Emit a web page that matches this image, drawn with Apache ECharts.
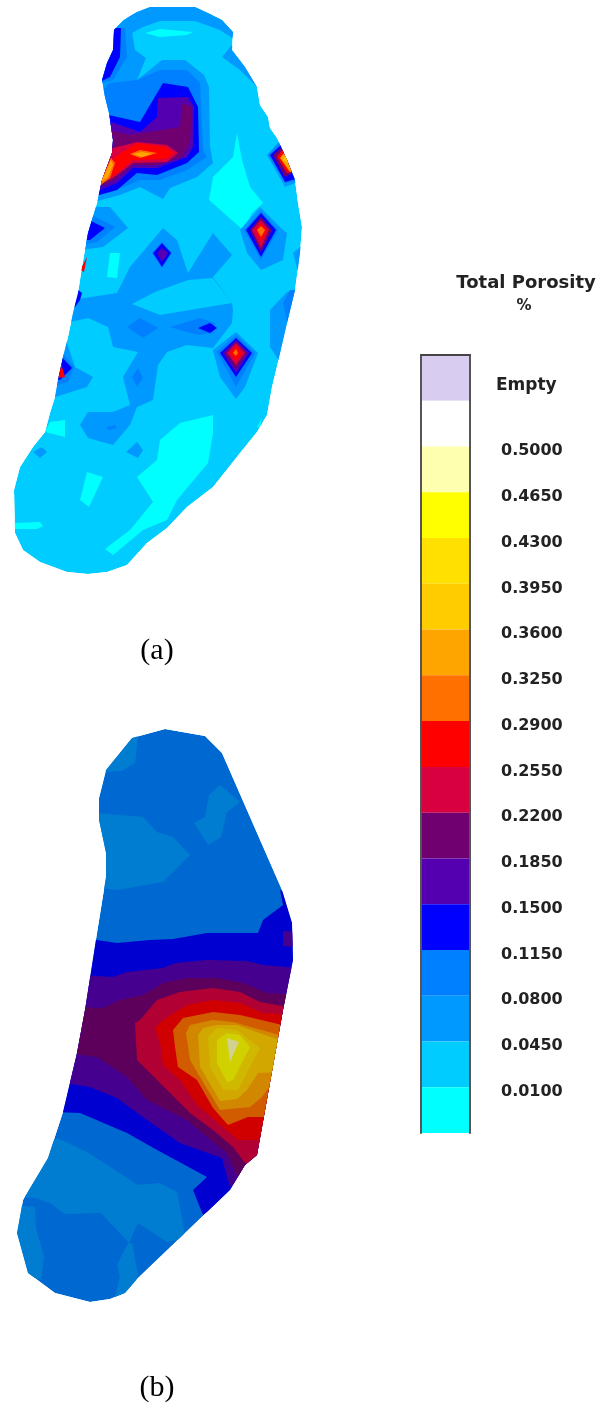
<!DOCTYPE html>
<html><head><meta charset="utf-8">
<style>html,body{margin:0;padding:0;background:#fff}#c{width:601px;height:1406px}</style>
<script src="https://cdn.jsdelivr.net/npm/echarts@6/dist/echarts.min.js"></script>
</head><body><div id="c"></div>
<script>
// Colour bar, top to bottom
const binNames = ['Empty','above','0.5000','0.4650','0.4300','0.3950','0.3600','0.3250','0.2900','0.2550','0.2200','0.1850','0.1500','0.1150','0.0800','0.0450','0.0100'];
const binColors = ['#d8ccf0','#ffffff','#ffffb0','#ffff00','#ffe000','#ffcc00','#ffa500','#ff7000','#ff0000','#d80040','#700070','#5500b0','#0000ff','#0080ff','#0099ff','#00ccff','#00ffff'];
const tickLabels = ['0.5000','0.4650','0.4300','0.3950','0.3600','0.3250','0.2900','0.2550','0.2200','0.1850','0.1500','0.1150','0.0800','0.0450','0.0100'];
// Contour level => colour class, lowest porosity first
const levelColors = ['#00ffff','#00ccff','#0099ff','#0080ff','#0000ff','#5500b0','#700070','#d80040','#ff0000','#ff7000','#ffa500','#ffcc00','#ffe000','#ffff00','#ffffb0'];

// Section (a): outline and contour polygons per level, in section coordinates
const aOutline = [[137,12],[150,7],[170,7],[195,7],[208,13],[222,20],[233,32],[232,50],[245,67],[257,87],[260,105],[268,117],[270,128],[277,138],[287,160],[295,180],[298,203],[302,227],[300,253],[295,290],[287,323],[278,362],[272,387],[267,415],[257,432],[240,453],[213,487],[187,507],[167,528],[147,543],[127,565],[107,572],[88,574],[67,572],[40,562],[23,550],[15,533],[14,490],[20,467],[33,447],[45,432],[50,413],[55,397],[58,380],[63,357],[68,337],[73,313],[78,293],[82,267],[88,233],[97,203],[102,180],[112,153],[113,140],[109,113],[105,97],[102,80],[107,63],[113,50],[114,30],[123,20]];
const aL0 = [
 [[237,133],[242,160],[250,187],[263,203],[252,213],[243,230],[217,207],[209,200],[213,177],[233,157]],
 [[145,33],[160,29],[193,32],[187,35],[160,37]],
 [[110,253],[120,253],[117,278],[107,277]],
 [[160,440],[180,423],[213,415],[213,433],[208,463],[177,500],[167,520],[143,530],[113,555],[105,549],[130,530],[153,502],[137,477],[157,460]],
 [[80,500],[87,472],[103,477],[89,507]],
 [[14,523],[40,522],[43,526],[37,529],[14,529]],
 [[45,432],[50,422],[65,420],[65,437]],
 [[257,427],[262,418],[260,427]]
];
const aL2 = [
 [[113,30],[127,18],[143,5],[195,2],[222,15],[238,33],[232,38],[220,30],[195,21],[160,21],[143,27],[132,33]],
 [[113,28],[132,32],[135,50],[146,58],[137,80],[162,60],[185,60],[204,75],[209,87],[210,147],[213,163],[197,177],[170,188],[163,199],[140,187],[120,195],[90,203],[90,100],[98,80],[104,60]],
 [[232,45],[222,57],[240,70],[260,90],[262,75]],
 [[72,300],[117,293],[130,267],[163,228],[177,240],[188,273],[213,233],[232,255],[213,277],[232,303],[233,310],[232,323],[213,348],[187,345],[167,352],[158,365],[153,400],[137,407],[130,425],[113,445],[88,438],[80,425],[88,412],[113,412],[130,405],[123,377],[138,352],[113,347],[108,327],[88,318],[70,322]],
 [[270,310],[287,292],[300,288],[290,325],[282,365],[270,347]],
 [[293,253],[305,243],[303,290]],
 [[92,207],[110,207],[128,228],[103,247],[80,250]],
 [[65,337],[75,367],[93,377],[87,387],[52,398]],
 [[267,155],[280,140],[296,143],[303,180],[285,187]],
 [[240,230],[260,207],[283,230],[287,233],[283,260],[261,270],[247,253]],
 [[213,350],[236,332],[258,353],[245,387],[236,399],[220,377]],
 [[126,452],[137,442],[143,450],[138,458]],
 [[33,452],[42,447],[47,452],[40,458]]
];
const aL1 = [[[132,304],[155,292],[188,280],[213,278],[232,303],[160,315]]];
const aL3 = [
 [[110,83],[137,80],[160,70],[187,70],[200,83],[203,150],[207,157],[187,170],[160,180],[140,180],[117,190],[92,197],[92,100]],
 [[113,28],[125,28],[127,57],[113,80],[98,84],[100,50]],
 [[88,213],[115,227],[97,242],[80,245]],
 [[60,350],[74,367],[68,382],[52,387]],
 [[268,155],[280,143],[299,167],[299,180],[285,183]],
 [[244,230],[261,211],[278,230],[261,260]],
 [[152,253],[162,242],[172,253],[162,268]],
 [[217,352],[236,335],[255,353],[236,387]],
 [[170,327],[200,318],[215,323],[213,333],[200,335],[190,333]],
 [[127,327],[140,318],[158,328],[143,338]],
 [[132,377],[138,368],[143,378],[137,387]],
 [[107,427],[115,425],[117,428],[108,430]],
 [[283,303],[290,290],[300,290],[288,325]]
];
const aL4 = [
 [[95,112],[140,122],[163,83],[188,87],[198,107],[199,152],[187,163],[157,175],[137,173],[117,190],[92,197]],
 [[110,28],[121,28],[120,57],[110,77],[96,84],[100,50]],
 [[85,218],[105,228],[90,240],[80,240]],
 [[72,285],[82,293],[80,300],[75,307],[70,307]],
 [[58,353],[72,368],[60,380],[52,380]],
 [[270,155],[281,145],[299,170],[299,178],[285,182]],
 [[246,230],[261,213],[276,230],[261,257]],
 [[153,253],[162,243],[171,253],[162,267]],
 [[220,353],[236,338],[252,353],[236,377]],
 [[198,328],[210,323],[217,328],[210,333]]
];
const aL5 = [
 [[100,118],[140,132],[157,117],[158,98],[188,97],[194,107],[193,147],[187,157],[157,168],[133,168],[117,183],[92,193]],
 [[157,253],[162,248],[168,253],[162,262]],
 [[223,353],[236,340],[249,353],[236,373]]
];
const aL6 = [
 [[100,128],[130,135],[180,127],[182,103],[192,107],[190,143],[182,157],[157,165],[133,165],[115,180],[92,190]],
 [[273,155],[281,148],[299,170],[285,177]],
 [[250,230],[261,217],[272,230],[261,252]],
 [[225,353],[236,342],[247,353],[236,369]]
];
const aL7 = [
 [[105,150],[137,142],[167,145],[178,153],[167,162],[133,163],[113,178],[92,188]],
 [[252,230],[261,220],[269,230],[261,248]],
 [[227,353],[236,343],[245,353],[236,365]]
];
const aL8 = [
 [[115,157],[137,143],[165,147],[174,153],[165,159],[133,160],[115,175],[92,186]],
 [[277,157],[282,150],[299,170],[287,173]],
 [[256,230],[261,223],[267,230],[261,242]],
 [[230,353],[236,346],[242,353],[236,361]],
 [[80,270],[87,257],[84,272]],
 [[60,360],[65,377],[58,378]]
];
const aL9 = [
 [[130,154],[140,150],[157,153],[140,158]],
 [[98,187],[107,167],[111,158],[115,163],[110,178]],
 [[257,230],[261,226],[265,230],[261,237]],
 [[233,353],[236,349],[238,353],[236,356]]
];
const aL10 = [
 [[133,154],[142,152],[152,154],[142,157]],
 [[100,183],[107,170],[111,160],[113,165],[108,177]],
 [[280,158],[285,152],[299,170],[290,172]]
];
const aL11 = [[[283,160],[286,155],[299,168]]];

// Section (b)
const bOutline = [[106,770],[132,738],[165,729],[205,736],[222,753],[282,890],[292,923],[293,960],[283,1010],[257,1155],[245,1165],[230,1190],[138,1278],[125,1293],[110,1299],[90,1302],[55,1293],[28,1273],[17,1233],[23,1200],[48,1158],[63,1112],[77,1053],[85,1010],[97,933],[106,877],[106,853],[99,820],[99,798]];
const bL2 = [
 [[100,772],[132,735],[138,735],[135,763],[122,771]],
 [[95,813],[143,817],[157,832],[173,837],[190,855],[163,882],[117,890],[100,888]],
 [[194,823],[205,817],[209,795],[220,785],[240,802],[227,812],[221,837],[208,845]],
 [[57,1138],[87,1152],[138,1185],[160,1183],[177,1192],[183,1223],[185,1238],[167,1242],[138,1223],[129,1243],[101,1213],[65,1214],[50,1203],[35,1198],[20,1197],[20,1170]],
 [[128,1243],[132,1243],[138,1275],[130,1295],[115,1297],[120,1277],[117,1265]],
 [[15,1205],[35,1207],[36,1228],[44,1257],[41,1280],[25,1275],[10,1233]]
];
const bL4 = [[[90,939],[117,943],[150,940],[173,939],[207,933],[258,933],[263,920],[283,905],[280,890],[300,900],[300,1010],[260,1160],[232,1195],[203,1215],[193,1190],[207,1177],[157,1150],[127,1133],[80,1113],[55,1112],[60,1000]]];
const bL5 = [
 [[80,975],[113,977],[127,972],[163,968],[175,963],[207,960],[247,961],[263,965],[300,968],[300,1010],[265,1160],[230,1187],[222,1158],[205,1152],[180,1143],[140,1115],[117,1098],[90,1087],[60,1082]],
 [[283,931],[298,932],[298,947],[283,946]]
];
const bL6 = [[[75,1007],[103,1008],[120,1000],[143,995],[163,983],[187,978],[217,978],[243,983],[267,993],[300,995],[300,1010],[270,1170],[238,1177],[227,1153],[213,1142],[187,1120],[147,1100],[127,1077],[97,1057],[65,1053]]];
const bL7 = [[[140,1020],[157,1000],[180,992],[213,988],[240,992],[260,1002],[300,1009],[270,1170],[245,1163],[233,1147],[213,1130],[190,1113],[167,1090],[137,1060],[135,1023]]];
const bL8 = [[[155,1028],[163,1020],[187,1005],[213,1000],[240,1003],[263,1013],[300,1015],[270,1140],[238,1140],[217,1122],[197,1105],[180,1080],[163,1065],[160,1043]]];
const bL9 = [[[173,1030],[183,1018],[213,1012],[240,1015],[295,1028],[280,1100],[272,1117],[248,1117],[228,1125],[213,1108],[197,1080],[178,1067],[175,1047]]];
const bL10 = [[[186,1033],[190,1025],[213,1020],[233,1022],[290,1038],[280,1072],[262,1097],[250,1107],[220,1110],[203,1082],[190,1060]]];
const bL11 = [[[198,1035],[203,1028],[217,1025],[237,1025],[285,1042],[280,1072],[258,1073],[247,1090],[237,1099],[220,1101],[200,1067]]];
const bL12 = [[[208,1037],[217,1028],[237,1030],[260,1048],[250,1067],[238,1090],[223,1090],[210,1067]]];
const bL13 = [[[217,1040],[227,1033],[240,1035],[250,1047],[233,1080],[227,1082],[217,1063]]];
const bL14 = [[[227,1038],[239,1042],[230,1062]]];

function layers(list){ const out=[]; list.forEach(([lvl,polys])=>polys.forEach(p=>out.push({lvl,p}))); return out; }
const aRegions = layers([[1,[aOutline]],[0,aL0],[2,aL2],[1,aL1],[3,aL3],[4,aL4],[5,aL5],[6,aL6],[7,aL7],[8,aL8],[9,aL9],[10,aL10],[11,aL11]]);
const bRegions = layers([[3,[bOutline]],[2,bL2],[4,bL4],[5,bL5],[6,bL6],[7,bL7],[8,bL8],[9,bL9],[10,bL10],[11,bL11],[12,bL12],[13,bL13],[14,bL14]]);

function shade(hex,f){ const n=parseInt(hex.slice(1),16);
  return 'rgb('+[(n>>16)&255,(n>>8)&255,n&255].map(v=>Math.round(v*f)).join(',')+')'; }

function mapSeries(regions,outline,f){
  return { type:'custom', xAxisIndex:0, yAxisIndex:0, coordinateSystem:'cartesian2d', silent:true, clip:false,
    data:regions.map((r,i)=>[i]), encode:{x:0,y:0},
    renderItem(params,api){
      const r=regions[api.value(0)];
      return { type:'polygon', shape:{points:r.p.map(q=>api.coord(q))},
        style:{fill:shade(levelColors[r.lvl],f),stroke:null},
        clipPath:{type:'polygon',shape:{points:outline.map(q=>api.coord(q))}} };
    } };
}
const TXT='#222';
const labelShift=0.1;
const chart=echarts.init(document.getElementById('c'),null,{renderer:'canvas'});
const ttl=(text,left,top,align,font,weight,size,color)=>({text,left,top,textAlign:align,padding:0,textStyle:{fontFamily:font,fontWeight:weight,fontSize:size,color}});
chart.setOption({
  animation:false, backgroundColor:'#fff',
  title:[
    ttl('Total Porosity',526,274,'center','DejaVu Sans','bold',18,TXT),
    ttl('%',524,299,'center','DejaVu Sans','bold',15,TXT),
    ttl('Empty',496,377,'left','DejaVu Sans','bold',17,TXT),
    ttl('(a)',157,636,'center','Liberation Serif','normal',30,'#000'),
    ttl('(b)',157,1373,'center','Liberation Serif','normal',30,'#000')
  ],
  grid:[{left:0,top:0,width:601,height:1406},{left:421,top:355,width:49,height:778}],
  xAxis:[
    {gridIndex:0,type:'value',min:0,max:601,show:false},
    {gridIndex:1,type:'value',min:0,max:1,position:'top',z:5,axisLine:{show:true,onZero:false,lineStyle:{color:'#444',width:2}},axisTick:{show:false},axisLabel:{show:false},splitLine:{show:false}}
  ],
  yAxis:[
    {gridIndex:0,type:'value',min:0,max:1406,inverse:true,show:false},
    {gridIndex:1,type:'value',min:0,max:binColors.length,inverse:true,position:'left',z:5,axisLine:{show:true,onZero:false,lineStyle:{color:'#555',width:2}},axisTick:{show:false},axisLabel:{show:false},splitLine:{show:false}},
    {gridIndex:1,type:'value',min:0,max:binColors.length,inverse:true,position:'right',z:5,
      axisLine:{show:true,onZero:false,lineStyle:{color:'#555',width:2}},axisTick:{show:false},splitLine:{show:false},
      axisLabel:{show:true,customValues:tickLabels.map((t,i)=>i+2+labelShift),margin:31,align:'left',verticalAlign:'middle',
        formatter:v=>tickLabels[Math.round(v-labelShift)-2],fontFamily:'DejaVu Sans',fontWeight:'bold',fontSize:16,color:TXT}}
  ],
  series:[
    mapSeries(aRegions,aOutline,1),
    mapSeries(bRegions,bOutline,0.82),
    { type:'custom', xAxisIndex:1, yAxisIndex:1, silent:true, z:1,
      data:binColors.map((c,i)=>[i]), encode:{y:0},
      renderItem(params,api){
        const i=api.value(0), a=api.coord([0,i]), b=api.coord([1,i+1]);
        return {type:'rect',shape:{x:a[0],y:a[1],width:b[0]-a[0],height:b[1]-a[1]},style:{fill:binColors[i]}};
      } }
  ]
});
</script></body></html>
